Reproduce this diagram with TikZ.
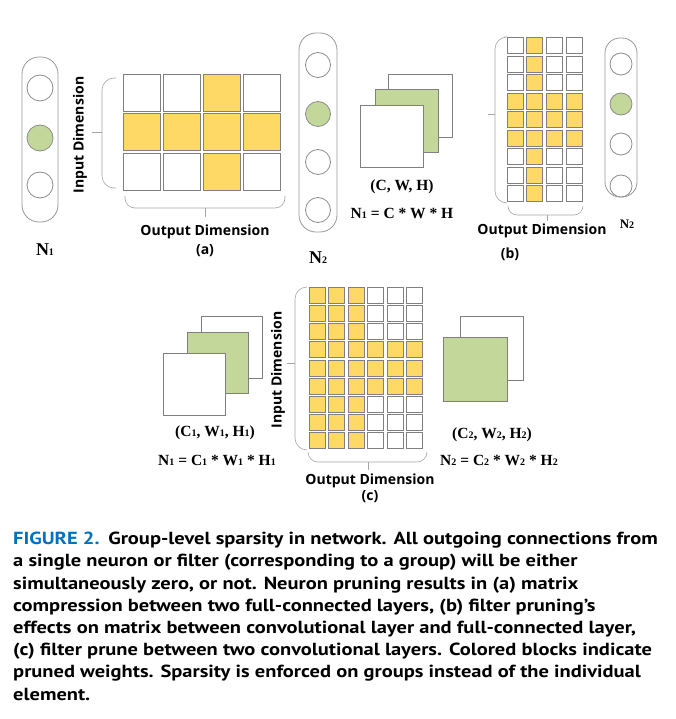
\documentclass[tikz,border=0pt]{standalone}
\usepackage{fontspec}
\setmainfont{Liberation Serif}
\newfontfamily\dimfont{Open Sans}
\newfontfamily\capfont[FakeStretch=1.17]{PT Sans}
\usepackage{xcolor}
\usetikzlibrary{positioning}
\definecolor{pruned}{RGB}{255,217,102}
\definecolor{chosen}{RGB}{196,215,155}
\definecolor{figblue}{RGB}{0,114,188}
\newcommand\idx[1]{{\fontsize{10}{10}\selectfont #1}}

\begin{document}
\begin{tikzpicture}[x=1pt, y=-1pt,
    cell/.style={draw=black!50, line width=0.9pt},
    pill/.style={draw=black!40, line width=0.8pt, rounded corners=17pt},
    neuron/.style={draw=black!45, line width=0.8pt},
    fmap/.style={draw=black!50, line width=0.9pt, fill=white},
    brace/.style={draw=black!35, line width=0.6pt, rounded corners=12pt},
    dimlbl/.style={font=\dimfont\bfseries\fontsize{14}{16}\selectfont, inner sep=0pt},
    serlbl/.style={font=\bfseries\fontsize{15.5}{17}\selectfont, inner sep=0pt}
  ]
  \fill[white] (0,0) rectangle (675,719);
  \useasboundingbox (0,0) rectangle (675,719);

  % (a) two full-connected layers
  \draw[pill] (22,57) rectangle (58,222);
  \foreach \yy/\tone in {88/white,138/chosen,185/white}
    \draw[neuron, fill=\tone] (40,\yy) circle[radius=13];
  \foreach \r in {1,...,3}
    \foreach \c in {1,...,4}{
      \pgfmathtruncatemacro\hit{(\r==2)||(\c==3)}
      \ifnum\hit=1 \def\tone{pruned}\else\def\tone{white}\fi
      \draw[cell, fill=\tone] ({123+(\c-1)*40},{74+(\r-1)*39.5}) rectangle ++(37,37);
    }
  \draw[brace] (116,78) -- (102,78) -- (102,188) -- (116,188);
  \draw[brace] (92,132) -- (102,132);
  \draw[brace, rounded corners=10pt] (125,196) -- (125,208) -- (285,208) -- (285,196);
  \draw[brace] (205,208) -- (205,217);
  \node[dimlbl, rotate=90] (indimA) at (80,135) {Input Dimension};
  \node[dimlbl] (outdimA) at (205,232) {Output Dimension};
  \node[dimlbl] (tagA) at (205,251) {(a)};
  \node[serlbl, font=\bfseries\fontsize{18}{19}\selectfont] (nA) at (45,250) {N\idx{1}};

  % (b) convolutional layer to full-connected layer
  \draw[pill] (299,33) rectangle (337,232);
  \foreach \yy/\tone in {65/white,114/chosen,162/white,210/white}
    \draw[neuron, fill=\tone] (318,\yy) circle[radius=12.5];
  \node[serlbl, font=\bfseries\fontsize{18}{19}\selectfont] (nB) at (318,258) {N\idx{2}};
  \draw[fmap] (388,74) rectangle (452,137);
  \draw[fmap, fill=chosen] (375,89) rectangle (438,152);
  \draw[fmap] (360,105) rectangle (423,167);
  \node[serlbl] (shapeB) at (402,187) {(C, W, H)};
  \node[serlbl] (sizeB) at (402,213) {N\idx{1} = C * W * H};
  \foreach \r in {1,...,9}
    \foreach \c in {1,...,4}{
      \pgfmathtruncatemacro\hit{(\r>3)&&(\r<7)||(\c==2)}
      \ifnum\hit=1 \def\tone{pruned}\else\def\tone{white}\fi
      \draw[cell, fill=\tone] ({507+(\c-1)*19.8},{37.7+(\r-1)*18.5}) rectangle ++(16,16);
    }
  \draw[brace] (504,37) -- (495,37) -- (495,203) -- (507,203);
  \draw[brace] (488,114) -- (495,114);
  \draw[brace, rounded corners=9pt] (508,206) -- (508,215) -- (583,215) -- (583,206);
  \draw[brace] (547,215) -- (547,221);
  \node[dimlbl] (outdimB) at (542,231) {Output Dimension};
  \node[dimlbl] (tagB) at (510,254) {(b)};
  \draw[pill, rounded corners=15pt] (605,38) rectangle (637,197);
  \foreach \yy/\tone in {64/white,104/chosen,144/white,186/white}
    \draw[neuron, fill=\tone] (621,\yy) circle[radius=11];
  \node[serlbl, font=\bfseries\fontsize{13}{14}\selectfont] (nBright) at (627,224) {N\idx{2}};

  % (c) two convolutional layers
  \draw[fmap] (201,316) rectangle (262,378);
  \draw[fmap, fill=chosen] (187,332) rectangle (248,393);
  \draw[fmap] (163,353) rectangle (225,415);
  \node[serlbl] (shapeC1) at (215,433) {(C\idx{1}, W\idx{1}, H\idx{1})};
  \node[serlbl] (sizeC1) at (217,460) {N\idx{1} = C\idx{1} * W\idx{1} * H\idx{1}};
  \node[dimlbl, rotate=90] (indimC) at (278,370) {Input Dimension};
  \foreach \r in {1,...,9}
    \foreach \c in {1,...,6}{
      \pgfmathtruncatemacro\hit{(\r>3)&&(\r<7)||(\c<4)}
      \ifnum\hit=1 \def\tone{pruned}\else\def\tone{white}\fi
      \draw[cell, fill=\tone] ({309.3+(\c-1)*19.5},{287.3+(\r-1)*18.2}) rectangle ++(16,16);
    }
  \draw[brace] (307,287) -- (295,287) -- (295,450) -- (307,450);
  \draw[brace] (287,363) -- (295,363);
  \draw[brace, rounded corners=10pt] (308,452) -- (308,462) -- (427,462) -- (427,452);
  \draw[brace] (368,462) -- (368,470);
  \node[dimlbl] (outdimC) at (370,481) {Output Dimension};
  \node[dimlbl] (tagC) at (370,497) {(c)};
  \draw[fmap] (460,316) rectangle (523,380);
  \draw[fmap, fill=chosen] (443,337) rectangle (507,401);
  \node[serlbl] (shapeC2) at (492,435) {(C\idx{2}, W\idx{2}, H\idx{2})};
  \node[serlbl] (sizeC2) at (499,460) {N\idx{2} = C\idx{2} * W\idx{2} * H\idx{2}};

  % caption
  \node[anchor=north west, align=left, inner sep=0pt,
        font=\capfont\bfseries\fontsize{17.5}{22.2}\selectfont] (caption) at (13,532)
    {\textcolor{figblue}{FIGURE 2.}\enspace Group-level sparsity in network. All outgoing connections from\\
     a single neuron or filter (corresponding to a group) will be either\\
     simultaneously zero, or not. Neuron pruning results in (a) matrix\\
     compression between two full-connected layers, (b) filter pruning’s\\
     effects on matrix between convolutional layer and full-connected layer,\\
     (c) filter prune between two convolutional layers. Colored blocks indicate\\
     pruned weights. Sparsity is enforced on groups instead of the individual\\
     element.};
\end{tikzpicture}
\end{document}
